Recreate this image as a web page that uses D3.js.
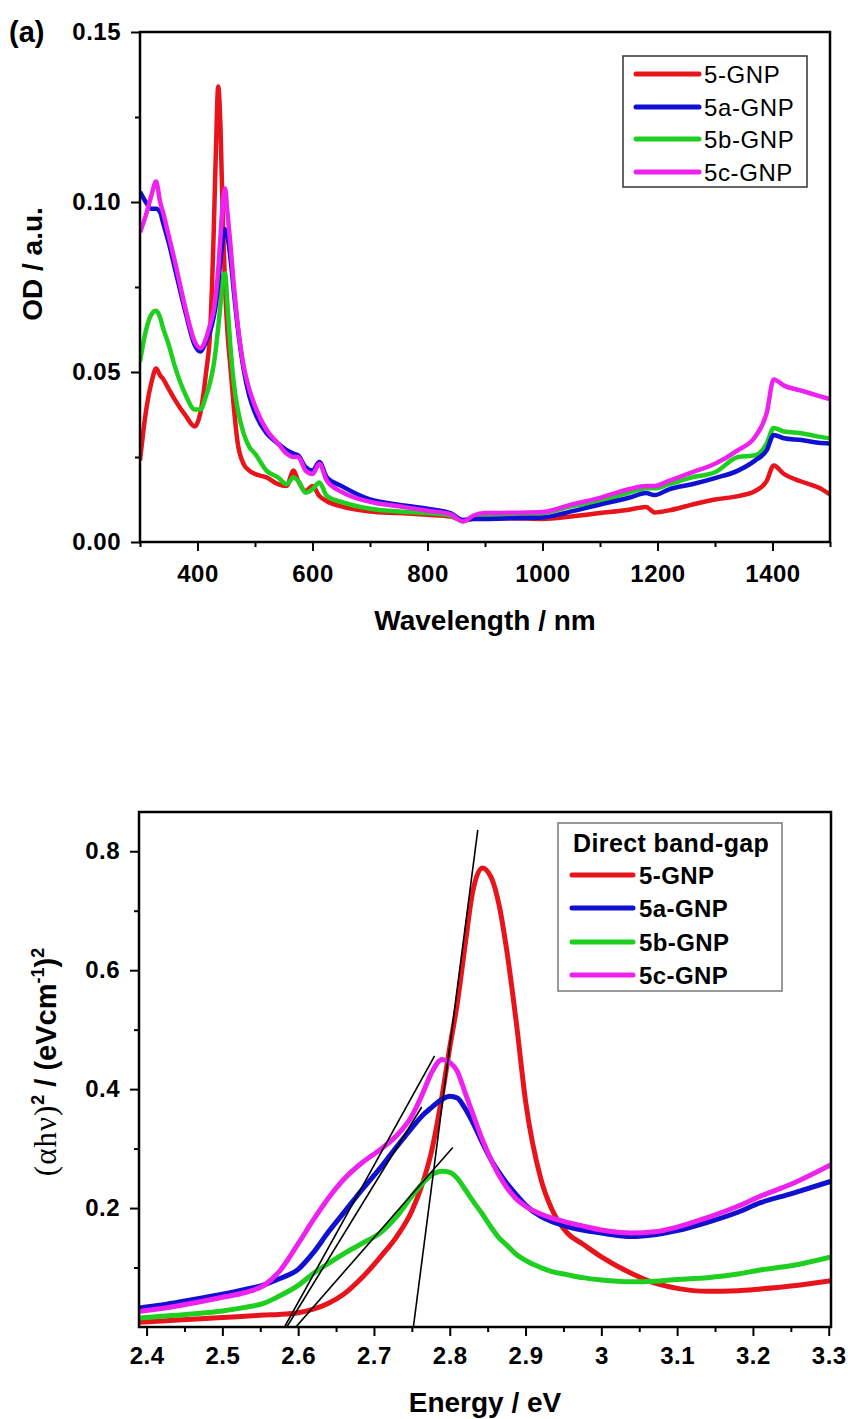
<!DOCTYPE html>
<html>
<head>
<meta charset="utf-8">
<script src="https://cdnjs.cloudflare.com/ajax/libs/d3/7.8.5/d3.min.js"></script>
<style>
    body { margin: 0; background: #fff; }
    svg { display: block; }
    text { font-family: "Liberation Sans", Arial, sans-serif; fill: #000; }
</style>
</head>
<body>
<div id="chart"></div>
<script>
// ---------- data, panel (a): UV-Vis spectra ----------
var seriesNames = ["5-GNP", "5a-GNP", "5b-GNP", "5c-GNP"];
var seriesColors = ["#e8141c", "#1010d0", "#1fcf1f", "#ee22ee"];

var wavelength = [300, 310, 320, 328, 335, 340, 350, 360, 380, 395, 405, 415, 422, 428, 432, 436, 440, 444, 448, 452,
    457, 463, 470, 480, 490, 500, 520, 540, 555, 567, 575, 588, 600, 612, 625, 650, 700, 750, 800, 840,
    862, 880, 900, 950, 1000, 1050, 1100, 1150, 1180, 1195, 1220, 1260, 1300, 1340, 1370, 1390, 1402, 1420, 1450, 1480, 1500];

var od5 = [0.024, 0.038, 0.047, 0.051, 0.049, 0.048, 0.045, 0.042, 0.037, 0.034, 0.038, 0.050, 0.062, 0.090, 0.115, 0.134, 0.122, 0.095, 0.075, 0.062,
    0.052, 0.040, 0.029, 0.023, 0.021, 0.020, 0.019, 0.017, 0.0165, 0.021, 0.018, 0.015, 0.0165, 0.0135, 0.012, 0.0105, 0.009, 0.0085, 0.008, 0.0075,
    0.0063, 0.0068, 0.007, 0.007, 0.0068, 0.0075, 0.0085, 0.0095, 0.0103, 0.0087, 0.0093, 0.011, 0.0125, 0.0135, 0.015, 0.018, 0.0225, 0.020, 0.0178, 0.016, 0.014];
var od5a = [0.103, 0.100, 0.098, 0.098, 0.097, 0.094, 0.088, 0.081, 0.067, 0.058, 0.056, 0.059, 0.062, 0.066, 0.070, 0.076, 0.083, 0.089, 0.092, 0.090,
    0.084, 0.074, 0.063, 0.051, 0.043, 0.038, 0.032, 0.029, 0.027, 0.026, 0.0255, 0.022, 0.021, 0.0235, 0.019, 0.0165, 0.0125, 0.011, 0.0098, 0.0085,
    0.0065, 0.0068, 0.0068, 0.007, 0.0072, 0.009, 0.011, 0.013, 0.0144, 0.0138, 0.0155, 0.017, 0.0188, 0.021, 0.024, 0.027, 0.0315, 0.0305, 0.030, 0.0292, 0.029];
var od5b = [0.053, 0.062, 0.067, 0.068, 0.066, 0.063, 0.058, 0.052, 0.043, 0.039, 0.039, 0.043, 0.047, 0.052, 0.057, 0.063, 0.070, 0.078, 0.079, 0.070,
    0.058, 0.047, 0.039, 0.032, 0.028, 0.026, 0.021, 0.019, 0.017, 0.019, 0.018, 0.0145, 0.0155, 0.0175, 0.0135, 0.0118, 0.0098, 0.009, 0.0085, 0.0078,
    0.0063, 0.0072, 0.0078, 0.008, 0.0085, 0.0105, 0.012, 0.0145, 0.0158, 0.0158, 0.017, 0.019, 0.0205, 0.025, 0.0255, 0.029, 0.0335, 0.0325, 0.032, 0.031, 0.0305];
var od5c = [0.091, 0.096, 0.102, 0.106, 0.100, 0.097, 0.090, 0.083, 0.068, 0.059, 0.057, 0.060, 0.064, 0.068, 0.073, 0.080, 0.090, 0.100, 0.104, 0.097,
    0.088, 0.076, 0.064, 0.052, 0.045, 0.040, 0.033, 0.029, 0.026, 0.025, 0.025, 0.021, 0.020, 0.023, 0.018, 0.0148, 0.0118, 0.0105, 0.0092, 0.0082,
    0.006, 0.0078, 0.0085, 0.0086, 0.0088, 0.011, 0.013, 0.0155, 0.0165, 0.0165, 0.018, 0.0205, 0.023, 0.027, 0.031, 0.038, 0.0478, 0.046, 0.0445, 0.043, 0.042];

var wlMajorTicks = [400, 600, 800, 1000, 1200, 1400];
var wlMinorTicks = [300, 500, 700, 900, 1100, 1300, 1500];
var odMajorTicks = [0, 0.05, 0.10, 0.15];
var odMinorTicks = [0.025, 0.075, 0.125];

// ---------- data, panel (b): Tauc plot ----------
var energy = [2.39, 2.42, 2.46, 2.50, 2.53, 2.555, 2.575, 2.60, 2.62, 2.64, 2.66, 2.685, 2.71, 2.73, 2.75, 2.765, 2.775, 2.79, 2.80, 2.81,
    2.82, 2.83, 2.843, 2.855, 2.865, 2.875, 2.888, 2.90, 2.92, 2.935, 2.955, 2.975, 3.0, 3.04, 3.07, 3.1, 3.14, 3.18, 3.21, 3.25, 3.303];

var tauc5 = [0.008, 0.010, 0.013, 0.016, 0.018, 0.020, 0.021, 0.024, 0.030, 0.040, 0.055, 0.084, 0.120, 0.152, 0.195, 0.245, 0.290, 0.390, 0.470, 0.545,
    0.640, 0.730, 0.772, 0.755, 0.710, 0.635, 0.510, 0.380, 0.250, 0.197, 0.158, 0.140, 0.118, 0.090, 0.074, 0.065, 0.060, 0.061, 0.064, 0.069, 0.078];
var tauc5a = [0.032, 0.037, 0.046, 0.055, 0.063, 0.071, 0.081, 0.097, 0.125, 0.160, 0.192, 0.232, 0.270, 0.303, 0.335, 0.357, 0.368, 0.383, 0.388, 0.385,
    0.368, 0.345, 0.310, 0.280, 0.260, 0.242, 0.222, 0.205, 0.186, 0.177, 0.169, 0.163, 0.158, 0.152, 0.155, 0.162, 0.176, 0.193, 0.209, 0.224, 0.245];
var tauc5b = [0.015, 0.018, 0.022, 0.027, 0.033, 0.040, 0.052, 0.070, 0.090, 0.107, 0.123, 0.141, 0.160, 0.186, 0.220, 0.243, 0.255, 0.262, 0.260, 0.250,
    0.232, 0.213, 0.190, 0.167, 0.150, 0.138, 0.122, 0.112, 0.100, 0.093, 0.088, 0.083, 0.079, 0.076, 0.077, 0.080, 0.083, 0.089, 0.096, 0.103, 0.118];
var tauc5c = [0.026, 0.031, 0.040, 0.050, 0.058, 0.070, 0.093, 0.140, 0.180, 0.217, 0.248, 0.277, 0.300, 0.322, 0.355, 0.395, 0.425, 0.450, 0.445, 0.430,
    0.395, 0.360, 0.315, 0.280, 0.255, 0.235, 0.215, 0.203, 0.190, 0.183, 0.176, 0.170, 0.163, 0.158, 0.160, 0.168, 0.184, 0.203, 0.220, 0.240, 0.273];

// linear fits drawn to find the band gap: [[E0, v0], [E1, v1]]
var fit5 = [[2.752, 0], [2.837, 0.836]];
var fit5a = [[2.585, 0], [2.763, 0.370]];
var fit5b = [[2.597, 0], [2.804, 0.302]];
var fit5c = [[2.582, 0], [2.780, 0.456]];

var eMajorTicks = [2.4, 2.5, 2.6, 2.7, 2.8, 2.9, 3.0, 3.1, 3.2, 3.3];
var eMinorTicks = [2.45, 2.55, 2.65, 2.75, 2.85, 2.95, 3.05, 3.15, 3.25];
var taucMajorTicks = [0.2, 0.4, 0.6, 0.8];
var taucMinorTicks = [0.1, 0.3, 0.5, 0.7];

// ---------- drawing ----------
var svg = d3.select("#chart").append("svg")
    .attr("width", 848)
    .attr("height", 1419);

svg.append("rect").attr("width", 848).attr("height", 1419).attr("fill", "#fff");

function drawAxes(g, x, y, opt) {
    var x0 = x.range()[0], x1 = x.range()[1];
    var y0 = y.range()[0], y1 = y.range()[1];

    // minor ticks first, majors on top
    g.append("g")
        .attr("transform", "translate(0," + y0 + ")")
        .call(d3.axisBottom(x).tickValues(opt.xMinor).tickSize(5).tickSizeOuter(0).tickFormat(""));
    g.append("g")
        .attr("transform", "translate(0," + y0 + ")")
        .call(d3.axisBottom(x).tickValues(opt.xMajor).tickSize(9).tickSizeOuter(0)
            .tickPadding(opt.xPad).tickFormat(opt.xFormat));
    g.append("g")
        .attr("transform", "translate(" + x0 + ",0)")
        .call(d3.axisLeft(y).tickValues(opt.yMinor).tickSize(5).tickSizeOuter(0).tickFormat(""));
    g.append("g")
        .attr("transform", "translate(" + x0 + ",0)")
        .call(d3.axisLeft(y).tickValues(opt.yMajor).tickSize(9).tickSizeOuter(0)
            .tickPadding(10).tickFormat(opt.yFormat));

    g.selectAll(".domain").remove();
    g.selectAll(".tick line").attr("stroke", "#000").attr("stroke-width", 2);
    g.selectAll(".tick text")
        .attr("font-family", "'Liberation Sans', Arial, sans-serif")
        .attr("font-size", 24)
        .attr("font-weight", "bold")
        .attr("letter-spacing", 0.5)
        .attr("fill", "#000");

    // frame
    g.append("rect")
        .attr("x", x0)
        .attr("y", y1)
        .attr("width", x1 - x0)
        .attr("height", y0 - y1)
        .attr("fill", "none")
        .attr("stroke", "#000")
        .attr("stroke-width", 2.5);
}

function drawLegend(g, lx, ly, w, h, rows, textX, lineX0, lineX1, bold, stroke) {
    g.append("rect")
        .attr("x", lx).attr("y", ly).attr("width", w).attr("height", h)
        .attr("fill", "#fff").attr("stroke", stroke).attr("stroke-width", 1.5);
    seriesNames.forEach(function(name, i) {
        g.append("line")
            .attr("x1", lineX0).attr("x2", lineX1)
            .attr("y1", rows[i]).attr("y2", rows[i])
            .attr("stroke", seriesColors[i])
            .attr("stroke-width", 5)
            .attr("stroke-linecap", "round");
        g.append("text")
            .attr("x", textX).attr("y", rows[i])
            .attr("dy", "0.36em")
            .attr("font-size", 24)
            .attr("font-weight", bold ? "bold" : "normal")
            .attr("letter-spacing", bold ? 0.4 : 0.6)
            .text(name);
    });
}

// ----- panel (a) -----
var xA = d3.scaleLinear().domain([300, 1500]).range([140, 830]);
var yA = d3.scaleLinear().domain([0, 0.15]).range([542, 32]);
var gA = svg.append("g");

svg.append("clipPath").attr("id", "clipA")
    .append("rect").attr("x", 140).attr("y", 32).attr("width", 690).attr("height", 510);

var specA = [od5, od5a, od5b, od5c];
var lineA = d3.line()
    .x(function(d) { return xA(d[0]); })
    .y(function(d) { return yA(d[1]); })
    .curve(d3.curveMonotoneX);

gA.append("g").attr("clip-path", "url(#clipA)")
    .selectAll("path")
    .data([0, 2, 1, 3])
    .enter().append("path")
    .attr("d", function(i) { return lineA(d3.zip(wavelength, specA[i])); })
    .attr("fill", "none")
    .attr("stroke", function(i) { return seriesColors[i]; })
    .attr("stroke-width", 4.5)
    .attr("stroke-linejoin", "round");

drawAxes(gA, xA, yA, {
    xMajor: wlMajorTicks, xMinor: wlMinorTicks, xPad: 14, xFormat: d3.format("d"),
    yMajor: odMajorTicks, yMinor: odMinorTicks, yFormat: d3.format(".2f")
});

drawLegend(gA, 623, 56, 184, 131, [74, 107, 139, 172], 704, 636, 699, false, "#333");

gA.append("text").attr("x", 9).attr("y", 42)
    .attr("font-size", 29).attr("font-weight", "bold").text("(a)");

gA.append("text")
    .attr("x", 485).attr("y", 630)
    .attr("text-anchor", "middle")
    .attr("font-size", 28).attr("font-weight", "bold")
    .text("Wavelength / nm");

gA.append("text")
    .attr("transform", "translate(42,264) rotate(-90)")
    .attr("text-anchor", "middle")
    .attr("font-size", 28).attr("font-weight", "bold")
    .text("OD / a.u.");

// ----- panel (b) -----
var xB = d3.scaleLinear().domain([2.39, 3.303]).range([139, 831]);
var yB = d3.scaleLinear().domain([0, 0.866]).range([1327, 812]);
var gB = svg.append("g");

svg.append("clipPath").attr("id", "clipB")
    .append("rect").attr("x", 139).attr("y", 812).attr("width", 692).attr("height", 515);

var specB = [tauc5, tauc5a, tauc5b, tauc5c];
var lineB = d3.line()
    .x(function(d) { return xB(d[0]); })
    .y(function(d) { return yB(d[1]); })
    .curve(d3.curveMonotoneX);

var plotB = gB.append("g").attr("clip-path", "url(#clipB)");

plotB.selectAll("path.spec")
    .data([0, 2, 1, 3])
    .enter().append("path")
    .attr("class", "spec")
    .attr("d", function(i) { return lineB(d3.zip(energy, specB[i])); })
    .attr("fill", "none")
    .attr("stroke", function(i) { return seriesColors[i]; })
    .attr("stroke-width", 5)
    .attr("stroke-linejoin", "round");

plotB.selectAll("path.fit")
    .data([fit5, fit5a, fit5b, fit5c])
    .enter().append("path")
    .attr("class", "fit")
    .attr("d", d3.line().x(function(d) { return xB(d[0]); }).y(function(d) { return yB(d[1]); }))
    .attr("fill", "none")
    .attr("stroke", "#000")
    .attr("stroke-width", 1.6);

drawAxes(gB, xB, yB, {
    xMajor: eMajorTicks, xMinor: eMinorTicks, xPad: 11, xFormat: d3.format("~g"),
    yMajor: taucMajorTicks, yMinor: taucMinorTicks, yFormat: d3.format(".1f")
});

drawLegend(gB, 558, 823, 224, 168, [875, 908, 942, 975], 639, 572, 633, true, "#777");
gB.append("text").attr("x", 573).attr("y", 843).attr("dy", "0.36em")
    .attr("font-size", 25).attr("font-weight", "bold").attr("letter-spacing", 0.4)
    .text("Direct band-gap");

gB.append("text")
    .attr("x", 485).attr("y", 1412)
    .attr("text-anchor", "middle")
    .attr("font-size", 28).attr("font-weight", "bold")
    .text("Energy / eV");

var yLab = gB.append("text")
    .attr("transform", "translate(56,1062) rotate(-90)")
    .attr("text-anchor", "middle")
    .attr("font-size", 29).attr("font-weight", "bold");
yLab.append("tspan").attr("font-family", "'Liberation Serif', serif").attr("font-weight", "normal")
    .attr("font-size", 31).attr("letter-spacing", 1).text("(\u03b1h\u03bd)");
yLab.append("tspan").attr("font-size", 18).attr("dy", -12).text("2");
yLab.append("tspan").attr("dy", 12).text(" / (eVcm");
yLab.append("tspan").attr("font-size", 18).attr("dy", -12).text("-1");
yLab.append("tspan").attr("dy", 12).text(")");
yLab.append("tspan").attr("font-size", 18).attr("dy", -12).text("2");
</script>
</body>
</html>
